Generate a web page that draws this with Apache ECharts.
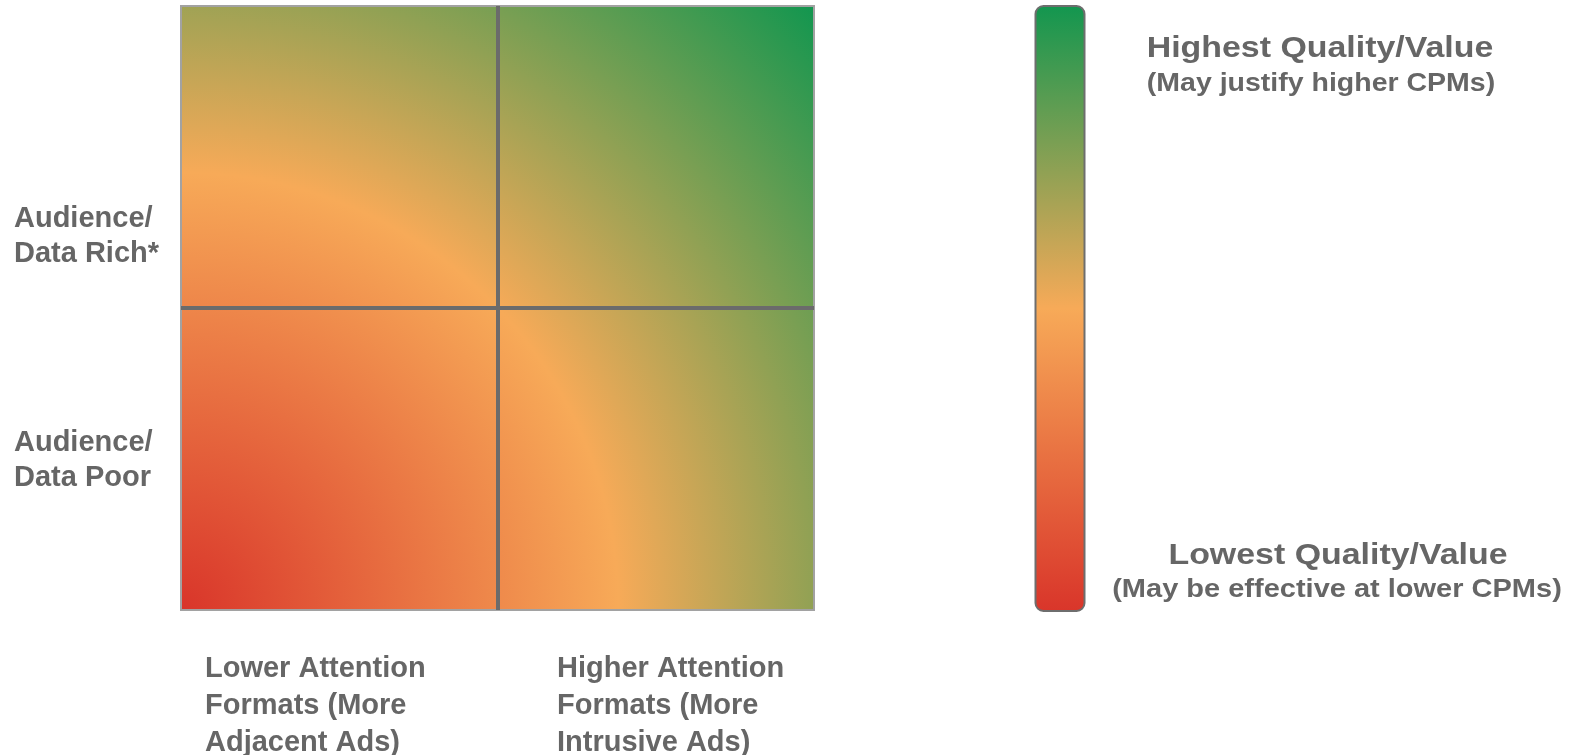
<!DOCTYPE html>
<html>
<head>
<meta charset="utf-8">
<script src="https://cdn.jsdelivr.net/npm/echarts@6/dist/echarts.min.js"></script>
<style>
  html, body { margin: 0; padding: 0; background: #ffffff; }
  #chart { width: 1571px; height: 755px; }
</style>
</head>
<body>
<div id="chart"></div>
<script>
// Quadrant categories
const columns = [
  'Lower Attention\nFormats (More\nAdjacent Ads)',
  'Higher Attention\nFormats (More\nIntrusive Ads)'
];
const rows = [
  'Audience/\nData Poor',
  'Audience/\nData Rich*'
];
// one cell per [column, row]
const quadrants = [[0, 0], [1, 0], [0, 1], [1, 1]];

// quality scale captions
const scaleHigh = ['Highest Quality/Value', '(May justify higher CPMs)'];
const scaleLow = ['Lowest Quality/Value', '(May be effective at lower CPMs)'];

const TEXT = '#666666';
const FONT = 'Liberation Sans, Arial, Helvetica, sans-serif';

const LOW = '#d9352a', MID = '#f7aa58', HIGH = '#12964f';

// value field: low at the bottom-left corner, high at the top-right corner
const fieldStops = [
  { offset: 0, color: LOW },
  { offset: 0.5, color: MID },
  { offset: 1, color: HIGH }
];
// colour key, top (high) to bottom (low)
const keyStops = [
  { offset: 0, color: HIGH },
  { offset: 0.5, color: MID },
  { offset: 1, color: LOW }
];

const chart = echarts.init(document.getElementById('chart'), null, { renderer: 'canvas' });

const GRID = { left: 181, top: 6, width: 633, height: 604 };

function renderCell(params, api) {
  const c = api.value(0), r = api.value(1);
  const center = api.coord([c, r]);
  const size = api.size([1, 1]);
  const cs = params.coordSys;
  // the field radiates from the plot's bottom-left corner to its far corner
  const ox = cs.x, oy = cs.y + cs.height;
  const radius = Math.sqrt(cs.width * cs.width + cs.height * cs.height);
  return {
    type: 'rect',
    shape: {
      x: center[0] - size[0] / 2,
      y: center[1] - size[1] / 2,
      width: size[0],
      height: size[1]
    },
    style: { fill: new echarts.graphic.RadialGradient(ox, oy, radius, fieldStops, true) },
    silent: true
  };
}

function labelText(text, x, y, lineHeight) {
  return {
    type: 'text',
    x: x, y: y,
    silent: true,
    style: {
      text: text,
      fill: TEXT,
      fontSize: 29,
      fontWeight: 'bold',
      fontFamily: FONT,
      lineHeight: lineHeight,
      align: 'left', textAlign: 'left',
      verticalAlign: 'top', textVerticalAlign: 'top'
    }
  };
}

function captionText(text, x, y, size, sx) {
  return {
    type: 'text',
    x: x, y: y,
    scaleX: sx,
    silent: true,
    style: {
      text: text,
      fill: TEXT,
      fontSize: size,
      fontWeight: 'bold',
      fontFamily: FONT,
      align: 'center', textAlign: 'center',
      verticalAlign: 'middle', textVerticalAlign: 'middle'
    }
  };
}

const option = {
  animation: false,
  backgroundColor: '#ffffff',
  grid: {
    left: GRID.left, top: GRID.top, width: GRID.width, height: GRID.height,
    show: true,
    backgroundColor: 'transparent',
    borderColor: '#a2a2a2',
    borderWidth: 2,
    z: 5
  },
  xAxis: {
    type: 'category',
    data: columns,
    z: 5,
    axisLine: { show: false },
    axisTick: { show: false },
    axisLabel: { show: false },
    splitLine: { show: true, showMinLine: false, showMaxLine: false, lineStyle: { color: '#6b6b6b', width: 4 } }
  },
  yAxis: {
    type: 'category',
    data: rows,
    z: 5,
    axisLine: { show: false },
    axisTick: { show: false },
    axisLabel: { show: false },
    splitLine: { show: true, showMinLine: false, showMaxLine: false, lineStyle: { color: '#6b6b6b', width: 4 } }
  },
  series: [{
    type: 'custom',
    z: 1,
    renderItem: renderCell,
    data: quadrants
  }],
  graphic: [
    // row labels
    labelText(rows[1], 14, 201, 35.5),
    labelText(rows[0], 14, 425, 35.5),
    // column labels
    labelText(columns[0], 205, 650, 37),
    labelText(columns[1], 557, 650, 37),
    // colour key
    {
      type: 'rect',
      silent: true,
      shape: { x: 1035.5, y: 6, width: 49, height: 605, r: 8 },
      style: {
        fill: new echarts.graphic.LinearGradient(0, 0, 0, 1, keyStops),
        stroke: '#6e6e6e',
        lineWidth: 2
      }
    },
    captionText(scaleHigh[0], 1320, 49, 30, 1.13),
    captionText(scaleHigh[1], 1321, 84, 25, 1.14),
    captionText(scaleLow[0], 1338, 556, 30, 1.13),
    captionText(scaleLow[1], 1337, 590, 25, 1.16)
  ]
};

chart.setOption(option);
</script>
</body>
</html>
